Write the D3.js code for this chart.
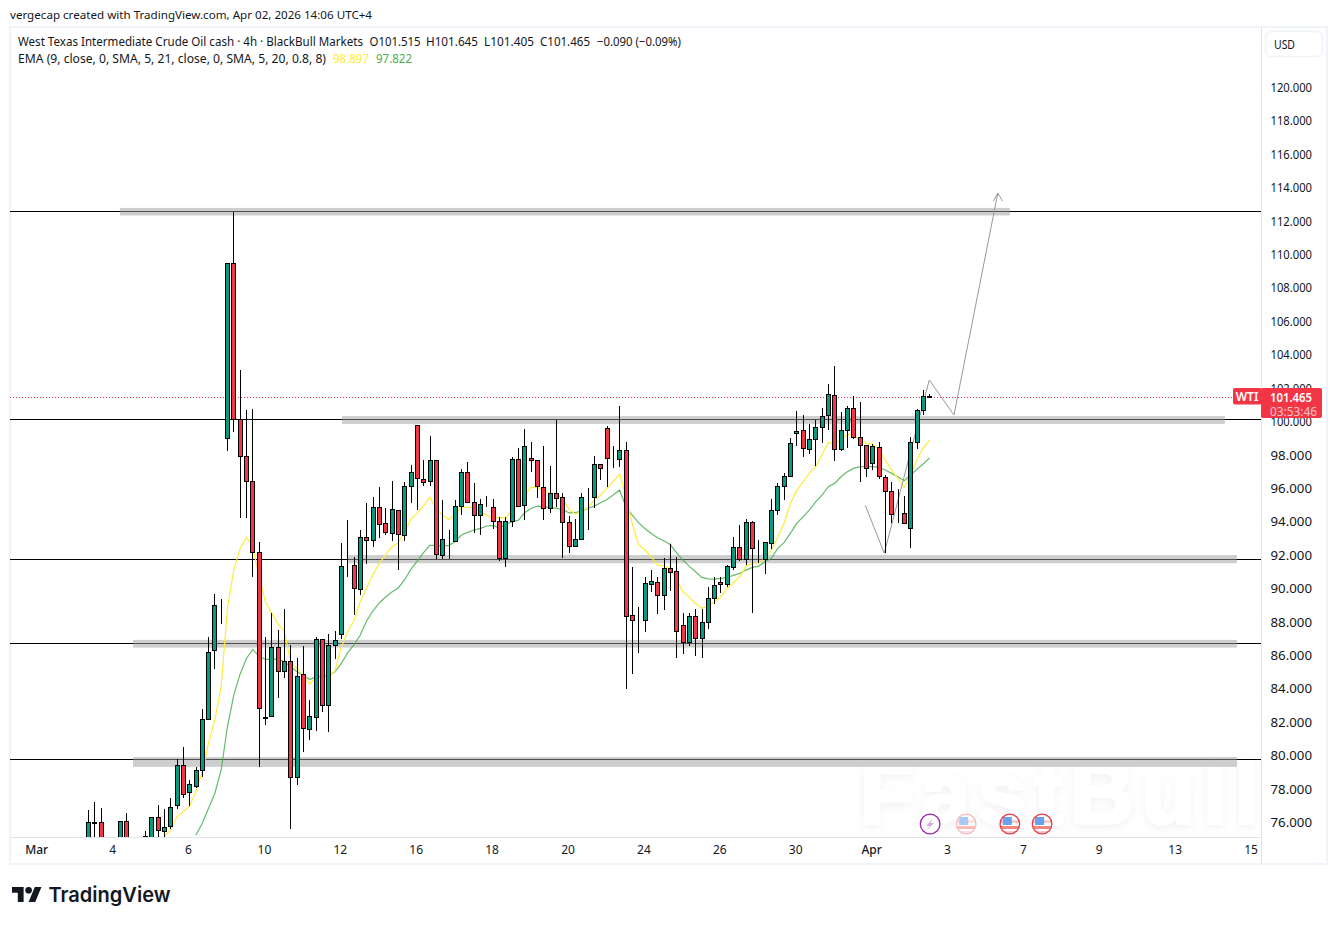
<!DOCTYPE html>
<html><head><meta charset="utf-8">
<script src="https://cdnjs.cloudflare.com/ajax/libs/d3/7.8.5/d3.min.js"></script>
<style>html,body{margin:0;padding:0;background:#fff}svg{display:block}text{font-family:"Noto Sans",sans-serif}</style>
</head><body><div id="c"></div>
<script>
// open, high, low, close for every 4h candle
const ohlcRows=[
[74.5,76.74,74.0,76.04],[76.04,77.20,74.8,76.0],[76.04,76.84,74.3,74.8],[74.6,75.0,74.0,74.3],[74.3,74.8,73.8,74.6],
[74.9,76.10,74.5,76.10],[76.10,76.54,74.6,74.9],[74.6,74.9,74.0,74.2],[74.2,74.8,73.9,74.6],[74.9,75.48,74.7,75.2],
[74.8,76.34,74.6,76.34],[76.30,77.02,74.9,75.54],[75.52,76.78,75.0,75.76],[75.78,77.44,75.64,76.94],[77.02,79.83,76.82,79.45],
[79.45,80.49,77.44,77.68],[77.84,78.54,77.0,78.28],[78.2,79.35,78.08,79.17],[79.17,82.77,78.73,82.17],[82.17,87.08,82.17,86.22],
[86.3,89.65,85.2,89.0],[89.0,89.35,87.9,89.0],[99.0,109.49,98.26,109.49],[109.49,112.55,99.39,100.15],[100.13,103.09,94.24,97.92],
[97.92,100.69,94.24,96.42],[96.42,100.75,90.71,92.17],[92.17,92.77,79.33,82.83],[82.23,87.08,81.83,82.33],[82.39,88.52,82.29,86.48],
[86.48,87.50,83.47,85.04],[85.04,88.76,84.66,85.64],[85.64,86.6,75.64,78.75],[78.75,85.82,78.25,84.80],[84.86,86.54,80.23,81.63],
[81.57,83.31,80.95,82.35],[82.29,87.08,81.49,86.96],[86.96,86.96,82.63,83.01],[83.01,87.26,81.43,86.6],[86.6,87.44,85.8,86.9],
[87.26,92.71,86.96,91.33],[91.37,94.08,90.71,91.37],[91.40,91.91,88.42,90.02],[90.0,93.51,89.62,93.07],[93.07,95.10,91.45,92.89],
[92.89,95.46,92.51,94.86],[94.9,96.06,93.05,93.85],[93.9,94.80,93.21,93.37],[93.31,96.42,92.85,94.74],[94.68,94.68,91.13,93.25],
[93.19,96.36,92.85,96.12],[96.12,97.38,95.10,96.96],[99.77,99.77,94.70,96.6],[96.54,97.68,96.16,96.4],[96.42,99.11,96.16,97.68],
[97.68,97.68,91.75,92.05],[91.99,95.28,91.75,92.95],[93.03,93.49,91.75,93.03],[92.83,95.30,92.83,94.92],[94.92,97.14,94.40,96.96],
[96.96,97.58,95.10,95.16],[95.16,96.30,93.35,94.38],[94.38,95.34,93.19,95.04],[95.0,95.52,94.86,95.02],[94.86,95.34,93.57,94.02],
[94.02,94.26,91.67,91.81],[91.81,94.26,91.27,94.02],[94.02,97.9,93.71,97.74],[97.74,98.40,94.86,94.92],[94.98,99.53,94.08,98.52],
[97.8,98.78,97.0,97.68],[97.68,97.68,95.44,96.12],[96.06,98.52,94.1,94.80],[94.8,97.32,94.5,95.7],[95.7,100.09,94.86,95.4],
[95.46,95.7,91.85,93.97],[93.97,94.34,92.11,92.53],[92.53,94.14,92.47,92.95],[92.95,95.7,92.89,95.46],[95.46,96.0,93.51,95.46],
[95.46,97.96,94.8,97.44],[97.44,97.44,96.48,97.2],[99.59,99.71,96.1,97.8],[97.78,98.52,97.22,97.78],[97.74,100.93,97.3,98.28],
[98.28,98.75,84.0,88.38],[88.4,91.27,84.9,88.1],[88.04,88.88,86.16,88.04],[88.1,90.67,87.42,90.31],[90.25,91.09,89.81,90.43],
[90.37,90.67,88.5,89.63],[89.63,91.81,88.72,91.21],[91.21,92.65,89.87,91.01],[91.03,91.87,85.82,87.44],[87.8,88.52,86.06,86.78],
[86.78,88.52,86.58,88.34],[88.34,88.76,85.94,87.02],[87.02,88.76,85.82,87.98],[87.98,90.07,87.6,89.41],[89.41,90.67,89.11,90.19],
[90.37,90.67,89.75,90.25],[90.25,91.39,90.07,91.33],[91.27,93.07,91.13,92.47],[92.47,93.79,91.63,91.75],[91.75,94.14,91.39,93.97],
[93.97,94.03,88.52,92.41],[91.75,92.89,91.51,91.75],[91.75,92.77,90.85,92.77],[92.71,95.34,92.37,94.68],[94.68,96.3,94.42,96.12],
[96.12,96.9,95.28,96.72],[96.72,99.0,96.72,98.7],[99.29,100.61,98.56,99.41],[99.48,100.38,97.86,98.4],[98.34,99.84,98.04,98.94],
[98.94,100.08,97.32,99.66],[99.66,100.8,98.7,100.32],[100.38,102.23,99.48,101.63],[101.57,103.33,97.62,98.34],[98.34,100.56,98.22,99.48],
[99.48,100.92,98.4,100.8],[100.8,101.51,98.94,99.06],[99.06,101.16,96.36,98.58],[98.58,98.58,96.66,97.2],[97.5,98.64,97.08,98.52],
[98.46,98.76,96.54,96.72],[96.66,96.78,92.11,95.83],[95.83,96.36,93.91,94.45],[94.51,95.95,93.91,94.51],[94.51,95.53,93.91,93.91],
[93.61,99.06,92.45,98.76],[98.76,100.74,98.34,100.68],[100.68,101.87,100.38,101.51],[101.515,101.645,101.405,101.465]
];
// EMA values, first bar index then one value per bar
const emaFastStart=12;
const emaFast=[75.15,75.54,76.34,76.64,76.98,77.84,79.03,80.73,82.13,84.12,88.82,91.11,92.41,93.07,92.51,90.71,89.21,88.52,87.88,87.42,85.62,85.22,84.76,84.28,84.68,84.72,84.72,85.08,86.5,87.4,88.1,89.2,90.05,90.82,91.51,92.01,92.51,92.75,93.41,94.15,94.54,94.94,95.48,94.80,94.40,94.14,94.44,94.90,94.86,94.86,94.60,94.40,94.2,94.26,94.2,94.74,95.06,95.6,96.06,96.06,95.9,95.7,95.7,95.36,94.76,94.46,94.6,94.86,95.3,95.6,96.0,96.4,96.86,95.5,93.9,92.63,92.31,91.91,91.41,91.37,91.21,90.61,89.81,89.51,89.11,88.82,88.95,89.21,89.51,90.01,90.35,90.71,91.35,91.51,91.55,91.81,92.31,93.07,93.9,95.1,95.85,96.4,96.9,97.3,98.0,98.74,98.7,98.9,99.2,99.2,98.9,98.7,98.66,98.3,97.7,97.1,96.6,96.06,96.8,97.7,98.4,98.897];
const emaSlowStart=17;
const emaSlow=[75.24,75.94,76.84,77.74,79.13,81.73,83.63,84.88,85.82,86.36,85.96,85.76,85.76,85.76,85.62,85.32,85.02,84.82,84.56,84.72,84.76,84.8,85.02,85.52,86.15,86.63,87.22,88.06,88.66,89.14,89.5,89.8,90.04,90.52,91.15,91.65,92.15,92.59,92.59,92.55,92.59,92.81,93.21,93.37,93.51,93.61,93.75,93.79,93.63,93.87,94.0,94.1,94.54,94.8,94.94,94.9,94.86,94.8,94.74,94.54,94.56,94.64,94.8,94.94,95.14,95.34,95.6,95.9,94.9,94.4,93.95,93.6,93.3,93.05,92.87,92.65,92.15,91.71,91.35,91.01,90.67,90.59,90.57,90.61,90.67,90.79,90.91,91.11,91.27,91.35,91.61,91.81,92.41,92.75,93.31,93.91,94.3,94.7,95.2,95.6,96.1,96.3,96.7,97.0,97.2,97.3,97.3,97.3,97.26,97.1,96.9,96.7,96.46,96.8,97.14,97.46,97.822];

const priceTicks=[76,78,80,82,84,86,88,90,92,94,96,98,100,102,104,106,108,110,112,114,116,118,120];
const timeTickBars=[-8,4,16,28,40,52,64,76,88,100,112,124,136,148,160,172,184];
const timeTickLabels=["Mar","4","6","10","12","16","18","20","24","26","30","Apr","3","7","9","13","15"];
// horizontal rays (price) and support / resistance boxes [bar0,bar1,priceTop,priceBottom]
const levelPrices=[112.61,100.13,91.77,86.72,79.80];
const zoneBoxes=[[5.0,145.7,112.79,112.34],[40.1,179.7,100.33,99.86],[41.1,181.6,92.01,91.52],[7.07,181.6,86.93,86.47],[7.07,181.6,79.92,79.33]];
// hand-drawn path [bar, price]
const pathPoints=[[122.85,94.99],[125.85,92.12],[132.96,102.49],[136.87,100.39],[143.8,113.68]];
const arrowHead=[[143.1,113.2],[143.8,113.68],[144.55,113.2]];
const lastPrice=101.465;
const eventBars=[133.1,138.8,145.7,150.8];
const eventKinds=["bolt","flag","flag","flag"];
const eventRing=["#9c27b0","#f7b9bf","#f23645","#f23645"];

const W=1337,H=925,ink="#131722",border="#f0f3fa",axisLine="#e0e3eb";
const plotL=10,plotR=1261,plotT=27,plotB=837,frameB=864,frameR=1327;
const x=d3.scaleLinear().domain([0,133]).range([88.3,929.5]);
const y=d3.scaleLinear().domain([76,120]).range([822.5,87.5]);
const candles=ohlcRows.map((r,i)=>({i,o:r[0],h:r[1],l:r[2],c:r[3]}));

const svg=d3.select("#c").append("svg").attr("width",W).attr("height",H);
const defs=svg.append("defs");
defs.append("clipPath").attr("id","plot").append("rect").attr("x",plotL).attr("y",plotT).attr("width",plotR-plotL).attr("height",plotB-plotT);
const halo=defs.append("filter").attr("id","soft").attr("x","-10%").attr("y","-20%").attr("width","120%").attr("height","150%");
halo.append("feDropShadow").attr("dx",0).attr("dy",3).attr("stdDeviation",5).attr("flood-color","#000").attr("flood-opacity",.05);

svg.append("text").attr("x",10).attr("y",18.5).attr("font-size",11.5).attr("fill",ink).attr("textLength",362).attr("lengthAdjust","spacingAndGlyphs").text("vergecap created with TradingView.com, Apr 02, 2026 14:06 UTC+4");

// frame
svg.append("rect").attr("x",plotL).attr("y",plotT).attr("width",frameR-plotL).attr("height",frameB-plotT).attr("fill","#fff").attr("stroke",border).attr("stroke-width",2);

// watermark
svg.append("text").style("font-family",'"Liberation Sans",sans-serif').attr("font-weight",700).attr("font-size",88)
 .attr("x",860).attr("y",823).attr("textLength",399).attr("lengthAdjust","spacing").attr("fill","#fff").attr("stroke","#fff").attr("stroke-width",3)
 .attr("filter","url(#soft)").text("FastBull");

const plot=svg.append("g").attr("clip-path","url(#plot)");
// levels
plot.selectAll(".lvl").data(levelPrices).join("rect").attr("class","lvl").attr("x",plotL).attr("width",plotR-plotL)
 .attr("y",d=>Math.round(y(d))).attr("height",1).attr("fill","#000").attr("shape-rendering","crispEdges");
plot.selectAll(".zone").data(zoneBoxes).join("rect").attr("class","zone")
 .attr("x",d=>x(d[0])).attr("width",d=>x(d[1])-x(d[0])).attr("y",d=>y(d[2])).attr("height",d=>y(d[3])-y(d[2]))
 .attr("fill","#9e9e9e").attr("fill-opacity",.5);
// dotted last price
plot.append("line").attr("x1",plotL).attr("x2",plotR).attr("y1",Math.round(y(lastPrice))+.5).attr("y2",Math.round(y(lastPrice))+.5)
 .attr("stroke","#f23645").attr("stroke-dasharray","1 2").attr("stroke-width",1);
// ema
const lineGen=d3.line().x(d=>x(d[0])).y(d=>y(d[1]));
plot.append("path").attr("d",lineGen(emaSlow.map((v,k)=>[k+emaSlowStart,v]))).attr("fill","none").attr("stroke","#4caf50").attr("stroke-width",1.2).attr("stroke-opacity",.85);
plot.append("path").attr("d",lineGen(emaFast.map((v,k)=>[k+emaFastStart,v]))).attr("fill","none").attr("stroke","#ffeb3b").attr("stroke-width",1.2);
// path
plot.append("path").attr("d",lineGen(pathPoints)).attr("fill","none").attr("stroke","#9598a1").attr("stroke-width",1);
plot.append("path").attr("d",lineGen(arrowHead)).attr("fill","none").attr("stroke","#9598a1").attr("stroke-width",1);
// candles
const cg=plot.append("g").attr("shape-rendering","crispEdges");
const cx=d=>Math.round(x(d.i)-.3);
cg.selectAll(".w").data(candles).join("rect").attr("class","w").attr("x",cx).attr("width",1)
 .attr("y",d=>Math.round(y(d.h))).attr("height",d=>Math.max(1,Math.round(y(d.l))-Math.round(y(d.h)))).attr("fill","#000");
cg.selectAll(".b").data(candles).join("rect").attr("class","b")
 .attr("x",d=>cx(d)-1.5).attr("width",4)
 .attr("y",d=>Math.round(y(Math.max(d.o,d.c)))+.5)
 .attr("height",d=>Math.max(0,Math.round(y(Math.min(d.o,d.c)))-Math.round(y(Math.max(d.o,d.c)))))
 .attr("fill",d=>d.c>=d.o?"#089981":"#f23645").attr("stroke","#000").attr("stroke-width",1);

// axes
const gy=svg.append("g").attr("transform",`translate(${plotR},0.2)`).call(d3.axisRight(y).tickValues(priceTicks).tickSize(0).tickPadding(10).tickFormat(d3.format(".3f")));
gy.select(".domain").remove();
gy.selectAll("text").attr("font-size",12).attr("fill",ink).style("font-family",'"Noto Sans",sans-serif').attr("textLength",41.5).attr("lengthAdjust","spacingAndGlyphs").attr("x",9.5);
const gx=svg.append("g").attr("transform",`translate(0,${plotB})`).call(d3.axisBottom(x).tickValues(timeTickBars).tickSize(0).tickPadding(8).tickFormat((d,k)=>timeTickLabels[k]));
gx.select(".domain").remove();
gx.selectAll("text").attr("font-size",12).attr("fill",ink).style("font-family",'"Noto Sans",sans-serif').attr("dx",-1.5)
 .attr("font-weight",(d,k)=>/[A-Z]/.test(timeTickLabels[k])?500:400);
svg.append("rect").attr("x",plotL).attr("y",plotB).attr("width",plotR-plotL).attr("height",1).attr("fill",axisLine);
svg.append("rect").attr("x",plotR).attr("y",plotT).attr("width",1).attr("height",frameB-plotT).attr("fill",axisLine);

// USD
svg.append("rect").attr("x",1265.5).attr("y",31.5).attr("width",57).attr("height",25).attr("rx",6).attr("fill","#fff").attr("stroke",border).attr("stroke-width",1.5);
svg.append("text").attr("x",1274).attr("y",49).attr("font-size",12).attr("fill",ink).attr("textLength",21).attr("lengthAdjust","spacingAndGlyphs").text("USD");

// legend
const leg=svg.append("g").attr("font-size",12).attr("fill",ink);
const row1=[[18,"West Texas Intermediate Crude Oil cash · 4h · BlackBull Markets",345],[369.5,"O101.515",51],[426,"H101.645",52],[484,"L101.405",50],[540,"C101.465",50],[597,"−0.090 (−0.09%)",84]];
row1.forEach(t=>leg.append("text").attr("x",t[0]).attr("y",46).attr("textLength",t[2]).attr("lengthAdjust","spacingAndGlyphs").text(t[1]));
leg.append("text").attr("x",18).attr("y",63).attr("textLength",308).attr("lengthAdjust","spacingAndGlyphs").text("EMA (9, close, 0, SMA, 5, 21, close, 0, SMA, 5, 20, 0.8, 8)");
leg.append("text").attr("x",333).attr("y",63).attr("fill","#ffeb3b").attr("textLength",36).attr("lengthAdjust","spacingAndGlyphs").text(d3.format(".3f")(emaFast[emaFast.length-1]));
leg.append("text").attr("x",376).attr("y",63).attr("fill","#4caf50").attr("textLength",36).attr("lengthAdjust","spacingAndGlyphs").text(d3.format(".3f")(emaSlow[emaSlow.length-1]));

// price tags
const ly=Math.round(y(lastPrice));
svg.append("rect").attr("x",1233).attr("y",ly-9).attr("width",29).attr("height",16.5).attr("rx",2).attr("fill","#f23645");
svg.append("rect").attr("x",plotR).attr("y",ly-9).attr("width",61).attr("height",30).attr("rx",2).attr("fill","#f23645");
svg.append("text").attr("x",1247).attr("y",ly+4).attr("text-anchor","middle").attr("font-size",12).attr("font-weight",600).attr("fill","#fff").text("WTI");
svg.append("text").attr("x",1270).attr("y",ly+4.5).attr("font-size",12).attr("font-weight",600).attr("fill","#fff").attr("textLength",42).attr("lengthAdjust","spacingAndGlyphs").text(d3.format(".3f")(lastPrice));
svg.append("text").attr("x",1270).attr("y",ly+18.5).attr("font-size",12).attr("fill","#fbc5ca").attr("textLength",47).attr("lengthAdjust","spacingAndGlyphs").text("03:53:46");

// event icons
const ev=svg.append("g");
eventBars.forEach((b,k)=>{
  const g=ev.append("g").attr("transform",`translate(${x(b)},824)`);
  const id="ev"+k;
  defs.append("clipPath").attr("id",id).append("circle").attr("r",9.5);
  g.append("circle").attr("r",10).attr("fill","#fff");
  if(eventKinds[k]==="flag"){
    const f=g.append("g").attr("clip-path",`url(#${id})`).attr("opacity",k===1?.4:.7);
    f.append("rect").attr("x",-11).attr("y",-4).attr("width",22).attr("height",3).attr("fill","#f4b4ba");
    f.append("rect").attr("x",-11).attr("y",2).attr("width",22).attr("height",3).attr("fill","#ef5350");
    f.append("rect").attr("x",-11).attr("y",7).attr("width",22).attr("height",3).attr("fill","#f4b4ba");
    f.append("rect").attr("x",-7).attr("y",-7).attr("width",9).attr("height",8).attr("fill","#2979e6");
  }else{
    g.append("path").attr("d","M3,-6 L-4,2 L-0.5,2 L-3,6 L4,-1 L0.5,-1 Z").attr("fill","#dba9e6");
  }
  g.append("circle").attr("r",9.8).attr("fill","none").attr("stroke",eventRing[k]).attr("stroke-width",1.3);
});

// logo
const logo=svg.append("g").attr("transform","translate(12,883.7) scale(.83)").attr("fill","#131722");
logo.append("path").attr("d","M14 22H7V11H0V4h14v18zM28 22h-8l7.5-18h8L28 22z");
logo.append("circle").attr("cx",20).attr("cy",8).attr("r",4);
svg.append("text").attr("x",48.5).attr("y",902).style("font-family",'Inter,sans-serif').attr("font-size",20.5).attr("font-weight",600).attr("fill","#131722").attr("textLength",122).attr("lengthAdjust","spacingAndGlyphs").text("TradingView");
</script></body></html>
